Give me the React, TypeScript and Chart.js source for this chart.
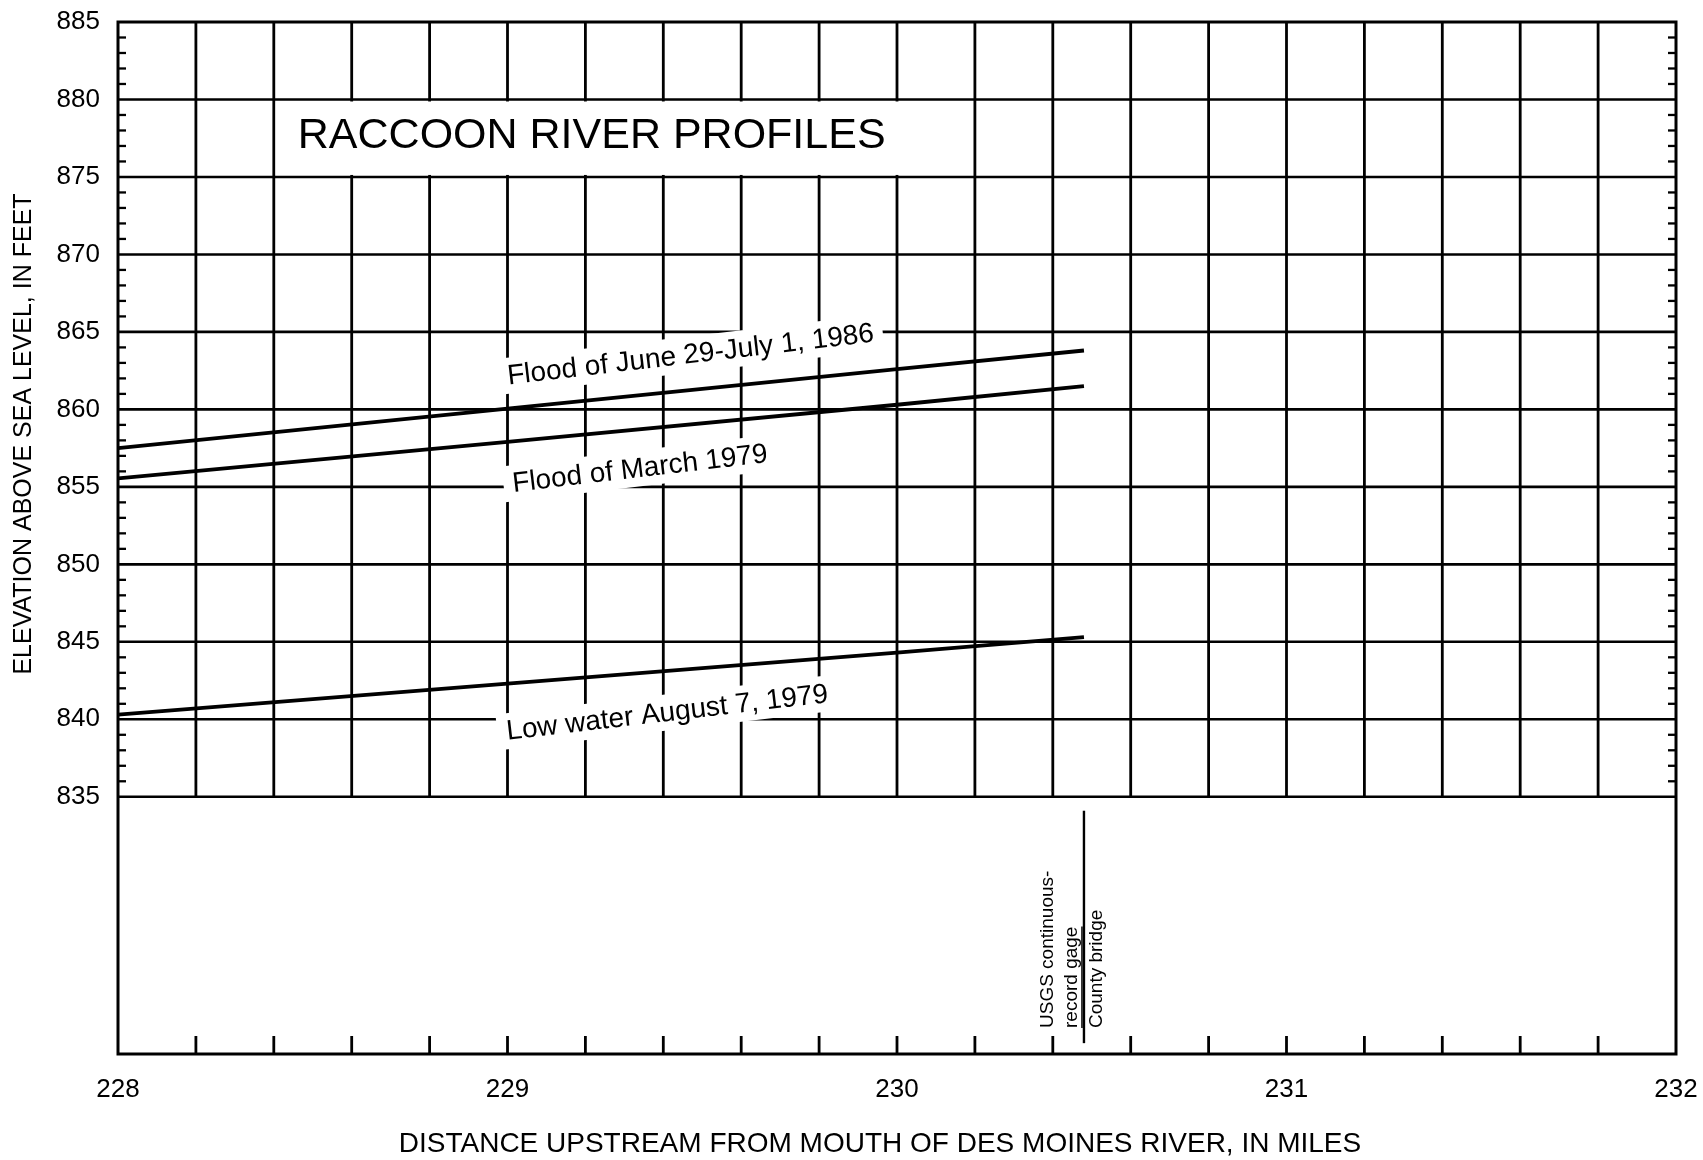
import React, { useEffect, useRef } from "react";
import { Chart, registerables } from "chart.js";

Chart.register(...registerables);

// ---- data ----
const miles = [228, 229, 230, 230.48];
const flood1986 = [857.5, 860.05, 862.6, 863.8];
const flood1979 = [855.55, 857.9, 860.3, 861.5];
const lowWater1979 = [840.3, 842.3, 844.3, 845.3];
const seriesNames = [
  "Flood of June 29-July 1, 1986",
  "Flood of March 1979",
  "Low water August 7, 1979",
];
const labelMiles = [229.47, 229.34, 229.41];
const labelElev = [863.55, 856.2, 840.45];
const yTickValues = [835, 840, 845, 850, 855, 860, 865, 870, 875, 880, 885];
const xTickValues = [228, 229, 230, 231, 232];
const gageMile = 230.48;
const gageTexts = ["USGS continuous-", "record gage", "County bridge"];
const titleText = "RACCOON RIVER PROFILES";
const xTitle = "DISTANCE UPSTREAM FROM MOUTH OF DES MOINES RIVER, IN MILES";
const yTitle = "ELEVATION ABOVE SEA LEVEL, IN FEET";

const FONT = '"Liberation Sans", Arial, Helvetica, sans-serif';

const line = (ctx: CanvasRenderingContext2D, x1: number, y1: number, x2: number, y2: number) => {
  ctx.beginPath();
  ctx.moveTo(x1, y1);
  ctx.lineTo(x2, y2);
  ctx.stroke();
};

const gridPlugin = {
  id: "usgsGrid",
  beforeDatasetsDraw(chart: any) {
    const { ctx, chartArea: ca, scales } = chart;
    const x = scales.x;
    const y = scales.y;
    ctx.save();
    ctx.strokeStyle = "#000";
    const yTop = y.getPixelForValue(885);
    const y835 = y.getPixelForValue(835);
    // vertical grid lines every 0.2 mile
    ctx.lineWidth = 2.8;
    for (let i = 1; i < 20; i++) {
      const px = x.getPixelForValue(228 + i * 0.2);
      line(ctx, px, yTop, px, y835);
      line(ctx, px, ca.bottom, px, ca.bottom - 18);
    }
    // horizontal lines every 5 ft
    ctx.lineWidth = 2.6;
    for (let v = 835; v < 885; v += 5) {
      const py = y.getPixelForValue(v);
      line(ctx, ca.left, py, ca.right, py);
    }
    // minor ticks every foot
    ctx.lineWidth = 2.3;
    for (let v = 836; v < 885; v++) {
      if (v % 5 === 0) continue;
      const py = y.getPixelForValue(v);
      line(ctx, ca.left, py, ca.left + 8, py);
      line(ctx, ca.right - 8, py, ca.right, py);
    }
    // border
    ctx.lineWidth = 3;
    ctx.strokeRect(ca.left, ca.top, ca.right - ca.left, ca.bottom - ca.top);

    // title box
    const bx1 = x.getPixelForValue(228.4);
    const bx2 = x.getPixelForValue(230.2);
    const by1 = y.getPixelForValue(880);
    const by2 = y.getPixelForValue(875);
    ctx.fillStyle = "#fff";
    ctx.fillRect(bx1 + 2, by1 + 2, bx2 - bx1 - 4, by2 - by1 - 4);
    ctx.fillStyle = "#000";
    ctx.font = `43px ${FONT}`;
    ctx.textAlign = "left";
    ctx.textBaseline = "alphabetic";
    ctx.fillText(titleText, bx1 + 24, by2 - 29);

    // series labels with white backgrounds
    ctx.font = `28px ${FONT}`;
    ctx.textAlign = "center";
    ctx.textBaseline = "middle";
    for (let i = 0; i < seriesNames.length; i++) {
      const px = x.getPixelForValue(labelMiles[i]);
      const py = y.getPixelForValue(labelElev[i]);
      const w = ctx.measureText(seriesNames[i]).width;
      ctx.save();
      ctx.translate(px, py);
      ctx.rotate((-6.7 * Math.PI) / 180);
      ctx.fillStyle = "#fff";
      ctx.fillRect(-w / 2 - 9, -18, w + 18, 36);
      ctx.fillStyle = "#000";
      ctx.fillText(seriesNames[i], 0, 1);
      ctx.restore();
    }
    ctx.restore();
  },
  afterDatasetsDraw(chart: any) {
    const { ctx, scales } = chart;
    const x = scales.x;
    const y = scales.y;
    ctx.save();
    ctx.strokeStyle = "#000";
    ctx.fillStyle = "#000";
    const gx = x.getPixelForValue(gageMile);
    ctx.lineWidth = 2.4;
    line(ctx, gx, y.getPixelForValue(834.1), gx, y.getPixelForValue(819.1));
    ctx.font = `19px ${FONT}`;
    ctx.textAlign = "left";
    ctx.textBaseline = "middle";
    const offsets = [-36, -12, 13];
    const startY = 1028;
    for (let i = 0; i < gageTexts.length; i++) {
      ctx.save();
      ctx.translate(gx + offsets[i], startY);
      ctx.rotate(-Math.PI / 2);
      ctx.fillText(gageTexts[i], 0, 0);
      if (i === 1) {
        const w = ctx.measureText(gageTexts[i]).width;
        ctx.lineWidth = 1.5;
        line(ctx, 0, 10, w, 10);
      }
      ctx.restore();
    }
    ctx.restore();
  },
  afterDraw(chart: any) {
    const { ctx } = chart;
    ctx.save();
    ctx.fillStyle = "#000";
    ctx.textAlign = "center";
    ctx.textBaseline = "middle";
    ctx.font = `28px ${FONT}`;
    ctx.fillText(xTitle, 880, 1144);
    ctx.font = `25px ${FONT}`;
    ctx.translate(24, 434);
    ctx.rotate(-Math.PI / 2);
    ctx.fillText(yTitle, 0, 0);
    ctx.restore();
  },
};

export default function App() {
  const ref = useRef<HTMLCanvasElement | null>(null);
  useEffect(() => {
    if (!ref.current) return;
    const mk = (ys: number[]) => miles.map((m, i) => ({ x: m, y: ys[i] }));
    const ds = (label: string, ys: number[]) => ({
      label,
      data: mk(ys),
      borderColor: "#000",
      backgroundColor: "#000",
      borderWidth: 3.8,
      pointRadius: 0,
      tension: 0,
      fill: false,
    });
    const chart = new Chart(ref.current, {
      type: "line",
      data: {
        datasets: [
          ds(seriesNames[0], flood1986),
          ds(seriesNames[1], flood1979),
          ds(seriesNames[2], lowWater1979),
        ],
      },
      options: {
        responsive: false,
        animation: false,
        devicePixelRatio: 1,
        layout: { padding: { top: 22, right: 27, left: 0, bottom: 0 } },
        plugins: {
          legend: { display: false },
          tooltip: { enabled: false },
          title: { display: false },
        },
        scales: {
          x: {
            type: "linear",
            min: 228,
            max: 232,
            grid: { display: false, drawTicks: false },
            border: { display: false },
            afterBuildTicks: (s: any) => {
              s.ticks = xTickValues.map((v) => ({ value: v }));
            },
            afterFit: (s: any) => {
              s.height = 106;
              s.paddingLeft = 0;
              s.paddingRight = 0;
            },
            ticks: {
              color: "#000",
              padding: 20,
              font: { family: FONT, size: 26 },
              maxRotation: 0,
              callback: (v: any) => String(v),
            },
          },
          y: {
            type: "linear",
            min: 818.4,
            max: 885,
            grid: { display: false, drawTicks: false },
            border: { display: false },
            afterBuildTicks: (s: any) => {
              s.ticks = yTickValues.map((v) => ({ value: v }));
            },
            afterFit: (s: any) => {
              s.width = 118;
              s.paddingTop = 0;
              s.paddingBottom = 0;
            },
            ticks: {
              color: "#000",
              padding: 18,
              font: { family: FONT, size: 26 },
              callback: (v: any) => String(v),
            },
          },
        },
      },
      plugins: [gridPlugin],
    } as any);
    return () => chart.destroy();
  }, []);
  return (
    <div style={{ position: "absolute", left: 0, top: 0, width: 1703, height: 1160, background: "#fff" }}>
      <canvas ref={ref} width={1703} height={1160} />
    </div>
  );
}
